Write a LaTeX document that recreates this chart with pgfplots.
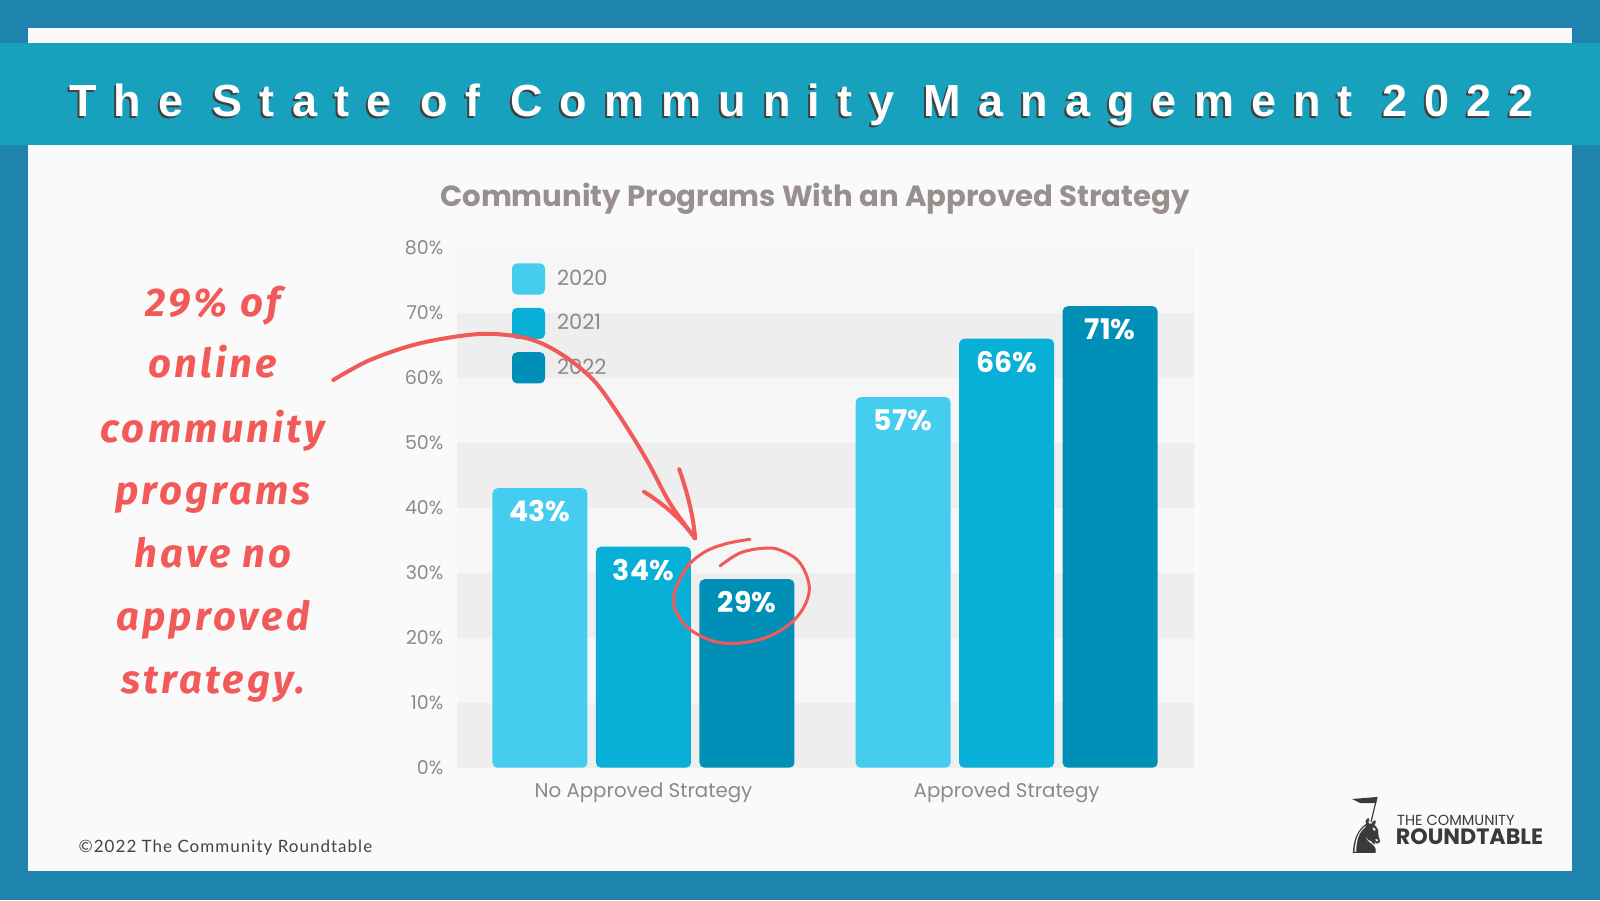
\documentclass[border=0pt]{standalone}
\usepackage{pgfplots}
\pgfplotsset{compat=1.18}
\usepackage{fontspec}
\setmainfont{Poppins}
\newfontfamily\titlefont[LetterSpace=38]{Liberation Sans}
\newfontfamily\handfont[LetterSpace=8]{Fira Sans}
\newfontfamily\footfont[LetterSpace=6]{Lato}
\newfontfamily\symfont{DejaVu Sans}
\definecolor{outer}{HTML}{1F84AD}
\definecolor{banner}{HTML}{17A1BC}
\definecolor{panel}{HTML}{FAFAFA}
\definecolor{cA}{HTML}{45CDF0}
\definecolor{cB}{HTML}{08AFD6}
\definecolor{cC}{HTML}{008FB7}
\definecolor{band}{HTML}{EDEEED}
\definecolor{lband}{HTML}{F6F6F6}
\definecolor{tickgray}{HTML}{8E8989}
\definecolor{titlegray}{HTML}{998F8F}
\definecolor{annot}{HTML}{F25A5A}
\definecolor{logo}{HTML}{3A3A3A}
\definecolor{foot}{HTML}{3E4448}
\pgfplotsset{
  /pgf/number format/assume math mode=true,
  sqleg/.style={legend image code/.code={\fill[##1, draw=none, rounded corners=2.5pt] (0pt,-7.8pt) rectangle (16.5pt,7.8pt);}}
}
\begin{document}
\begin{tikzpicture}[x=0.5pt,y=0.5pt]
% background frame
\fill[outer] (0,0) rectangle (1600,900);
\fill[panel] (27.5,{900-870.7}) rectangle (1571.5,{900-28});
\fill[banner] (0,{900-145}) rectangle (1600,{900-43});
% banner title
\node[anchor=base, text=black!75, inner sep=0pt, font=\titlefont\bfseries\fontsize{22.5}{24}\selectfont] at (799.5,{900-117-2}) {The State of Community Management 2022};
\node[anchor=base, text=white, inner sep=0pt, font=\titlefont\bfseries\fontsize{22.5}{24}\selectfont] at (801.5,{900-117}) {The State of Community Management 2022};
% chart title
\node[anchor=base, text=titlegray, inner sep=0pt, font=\bfseries\fontsize{14.6}{16}\selectfont] at (815,{900-207}) {Community Programs With an Approved Strategy};

\begin{axis}[
  at={(228.5pt,66.15pt)}, anchor=south west,
  scale only axis, width=368.5pt, height=260pt,
  xmin=-0.5135, xmax=1.516, ymin=0, ymax=80,
  ybar=4.25pt, bar width=47.5pt,
  axis line style={draw=none},
  major tick length=0pt,
  xtick={0,1}, xticklabels={No Approved Strategy, Approved Strategy},
  ytick={0,10,...,80},
  yticklabel={\pgfmathprintnumber{\tick}\%},
  yticklabel style={font=\fontsize{9.5}{11}\selectfont, text=tickgray, xshift=-3.3pt},
  xticklabel style={font=\fontsize{9.9}{11}\selectfont, text=tickgray, yshift=-4pt},
  axis background/.style={fill=lband},
  nodes near coords={\pgfmathprintnumber{\pgfplotspointmeta}\%},
  nodes near coords style={anchor=north, yshift=-6pt, text=white, inner sep=0pt, font=\bfseries\fontsize{14.2}{15}\selectfont},
  legend style={at={(0.0741,0.9706)}, anchor=north west, draw=none, fill=none, inner sep=0pt, row sep=6.6pt,
    font=\fontsize{10.5}{12}\selectfont, nodes={text=tickgray, inner sep=0pt},
    /tikz/every odd column/.append style={column sep=6pt}},
  legend cell align=left,
]
\fill[band] (axis cs:-1,0) rectangle (axis cs:2,10);
\fill[band] (axis cs:-1,20) rectangle (axis cs:2,30);
\fill[band] (axis cs:-1,40) rectangle (axis cs:2,50);
\fill[band] (axis cs:-1,60) rectangle (axis cs:2,70);
\addplot[fill=cA, draw=none, rounded corners=2.5pt, sqleg] coordinates {(0,43) (1,57)};
\addlegendentry{2020}
\addplot[fill=cB, draw=none, rounded corners=2.5pt, sqleg] coordinates {(0,34) (1,66)};
\addlegendentry{2021}
\addplot[fill=cC, draw=none, rounded corners=2.5pt, sqleg] coordinates {(0,29) (1,71)};
\addlegendentry{2022}
\end{axis}

% handwritten annotation
\begin{scope}[every node/.style={anchor=base, text=annot, inner sep=0pt, font=\handfont\bfseries\itshape\fontsize{20}{22}\selectfont}]
\node at (213,{900-316.7}) {29\% of};
\node at (213,{900-378}) {online};
\node at (213,{900-442.7}) {community};
\node at (213,{900-505}) {programs};
\node at (213,{900-568}) {have no};
\node at (213,{900-630}) {approved};
\node at (213,{900-693}) {strategy.};
\end{scope}
% arrow
\draw[annot, line width=2pt, line cap=round] plot[smooth, tension=0.55] coordinates {
 (333.3,{900-380}) (370,{900-360}) (420,{900-343.3}) (480,{900-334}) (526.7,{900-338.3}) (560,{900-353.3})
 (593.3,{900-380}) (620,{900-416.7}) (646.7,{900-460}) (670,{900-503.3}) (695,{900-538.3})};
\draw[annot, line width=2pt, line cap=round] (644,{900-491.7}) .. controls (665,{900-505}) and (682,{900-520}) .. (695,{900-538.3});
\draw[annot, line width=2pt, line cap=round] (679.3,{900-469.3}) .. controls (688,{900-495}) and (693,{900-515}) .. (695,{900-536.7});
% circle around 29%
\draw[annot, line width=1.5pt, line cap=round] plot[smooth, tension=0.6] coordinates {
 (750,{900-539.3}) (725,{900-544}) (703,{900-553}) (685,{900-570}) (673.3,{900-600}) (685,{900-625}) (710,{900-640})
 (736.7,{900-643.3}) (770,{900-636}) (797,{900-617}) (809.3,{900-590}) (800,{900-563}) (780,{900-550}) (763,{900-548.3})
 (740,{900-553}) (720,{900-566})};
% footer
\node[anchor=base west, inner sep=0pt, text=foot, font=\footfont\fontsize{8.5}{10}\selectfont] at (78.3,{900-852.3}) {©2022 The Community Roundtable};
% logo
\node[anchor=base west, inner sep=0pt, text=logo, font=\fontsize{7.3}{8}\selectfont] at (1396.7,{900-825}) {THE COMMUNITY};
\node[anchor=base west, inner sep=0pt, text=logo, font=\bfseries\fontsize{11.1}{12}\selectfont] at (1395.5,{900-844}) {ROUNDTABLE};
\node[xscale=-1, inner sep=0pt, text=logo, font=\symfont\fontsize{24}{24}\selectfont] at (1367,{900-836}) {♞};
\draw[logo, line width=0.6pt] (1371,{900-822}) -- (1377,{900-797});
\fill[logo] (1352,{900-799}) -- (1377,{900-797}) -- (1376,{900-803}) -- (1360,{900-803}) -- cycle;
\end{tikzpicture}
\end{document}
